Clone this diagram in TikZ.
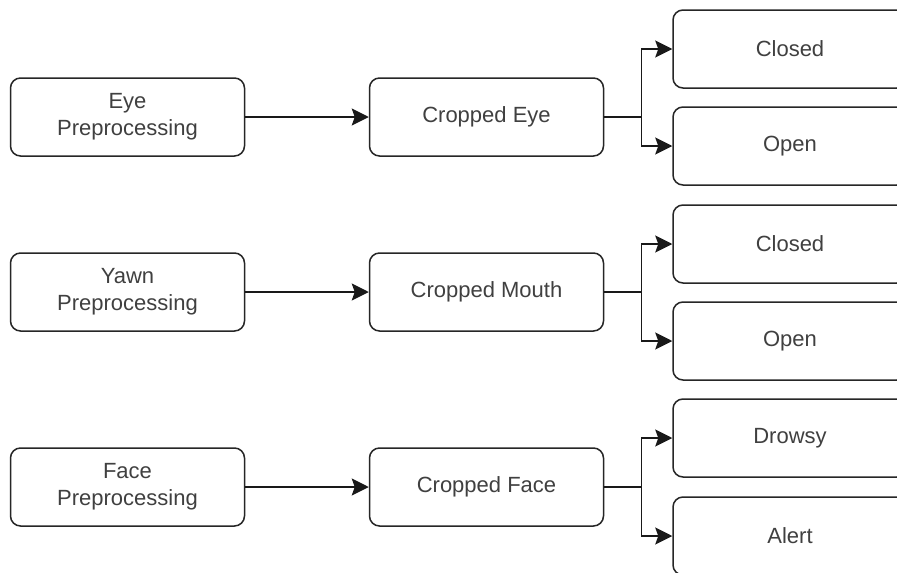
\documentclass[tikz,border=0pt]{standalone}
\usepackage{fontspec}
\setmainfont{Liberation Sans}
\usetikzlibrary{arrows.meta}
\begin{document}
\begin{tikzpicture}[x=1pt,y=-1pt,
  box/.style={draw=black!85, line width=1.5pt, rounded corners=10pt,
    minimum width=234pt, minimum height=78pt, align=center, inner sep=0pt,
    font=\fontsize{22}{27}\selectfont, text=black!75},
  wire/.style={draw=black!90, line width=1.5pt},
  link/.style={wire, -{Stealth[length=17pt,width=17pt,inset=3pt]}}]
\clip (0,0) rectangle (897,573);
\fill[white] (0,0) rectangle (897,573);

% row 1: eye
\node[box] (pe) at (127.5,117) {Eye\\Preprocessing};
\node[box] (ce) at (486.5,117) {Cropped Eye};
\node[box] (ec) at (790,49)  {Closed};
\node[box] (eo) at (790,146) {Open};

% row 2: yawn
\node[box] (py) at (127.5,292) {Yawn\\Preprocessing};
\node[box] (cm) at (486.5,292) {Cropped Mouth};
\node[box] (mc) at (790,244) {Closed};
\node[box] (mo) at (790,341) {Open};

% row 3: face
\node[box] (pf) at (127.5,487) {Face\\Preprocessing};
\node[box] (cf) at (486.5,487) {Cropped Face};
\node[box] (fd) at (790,438) {Drowsy};
\node[box] (fa) at (790,536) {Alert};

% connectors
\foreach \p/\c/\a/\b in {pe/ce/ec/eo, py/cm/mc/mo, pf/cf/fd/fa}{
  \draw[link] (\p) -- (\c);
  \draw[link] (\c.east) -- ++(37,0) |- (\a.west);
  \draw[link] (\c.east) -- ++(37,0) |- (\b.west);
}
\end{tikzpicture}
\end{document}
